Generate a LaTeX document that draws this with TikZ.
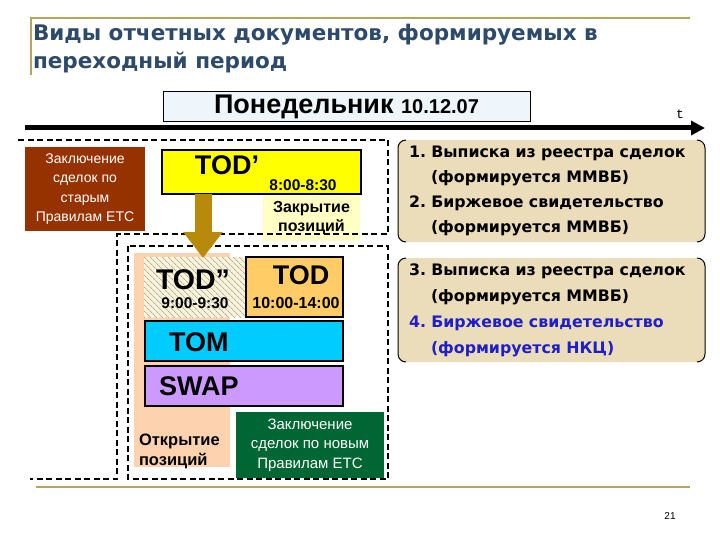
\documentclass[tikz,border=0pt]{standalone}
\usepackage{fontspec}
\setmainfont{Liberation Sans}
\newfontfamily\headfont{DejaVu Sans}
\newfontfamily\tfont{Liberation Mono}
\usetikzlibrary{arrows.meta,patterns.meta}
\definecolor{headblue}{HTML}{2E4A6B}
\definecolor{rulecol}{HTML}{B5A65A}
\definecolor{monday}{HTML}{EEF6FC}
\definecolor{oldbrown}{HTML}{963200}
\definecolor{todyellow}{HTML}{FFFF00}
\definecolor{closeyellow}{HTML}{FFFFC4}
\definecolor{arrgold}{HTML}{B88A0C}
\definecolor{openpeach}{HTML}{FCD3AE}
\definecolor{hatchbg}{HTML}{F6F2DC}
\definecolor{hatchln}{HTML}{B5AD8C}
\definecolor{todorange}{HTML}{FFCC66}
\definecolor{tomcyan}{HTML}{00CCFF}
\definecolor{swapviolet}{HTML}{CC99FF}
\definecolor{newgreen}{HTML}{006633}
\definecolor{doctan}{HTML}{EBDDBA}
\definecolor{docblue}{HTML}{1F1FC8}
\newcommand{\sz}[2]{\fontsize{#1}{#2}\selectfont}
\frenchspacing
\tikzset{
  blk/.style     = {anchor=north west,inner sep=0pt,outer sep=0pt},
  framed/.style  = {blk,draw=black,line width=1.3pt},
  lbl/.style     = {inner sep=0pt,outer sep=0pt},
  bound/.style   = {line width=1.6pt,dash pattern=on 6pt off 3.5pt},
  docbox/.style  = {blk,fill=doctan,rounded corners=8pt,minimum width=307pt,
                    text width=285pt,inner xsep=11pt,align=left},
  bracket/.style = {line width=1pt,rounded corners=8pt}
}

\begin{document}
\begin{tikzpicture}[x=1pt,y=-1pt]
  \useasboundingbox (0,0) rectangle (720,540);
  % title and rules
  \draw[rulecol,line width=2.5pt] (31,75) -- (31,18) -- (690,18);
  \node[blk,text=headblue,align=left,font=\headfont\bfseries\sz{21.5}{28}] (title) at (33,24)
    {Виды отчетных документов, формируемых в\\переходный период};
  \draw[rulecol,line width=2.5pt] (36,487) -- (690,487);
  \node[lbl,font=\sz{10}{12}] (pagenum) at (670,516) {21};

  % time axis
  \node[framed,line width=1pt,fill=monday,minimum width=367pt,minimum height=30pt,
        font=\bfseries] (monday) at (163,92)
    {{\sz{27}{28}Понедельник\ }{\sz{20}{22}10.12.07}};
  \coordinate (tstart) at (25,128);
  \coordinate (tend) at (705,128);
  \draw[line width=5pt,-{Triangle[length=14pt,width=14pt]}] (tstart) -- (tend);
  \node[lbl,font=\tfont\sz{13}{15}] (tlabel) at (680,114) {t};

  % old rules
  \node[blk,fill=oldbrown,minimum width=120pt,minimum height=84pt,text=white,
        align=center,font=\sz{14}{19.3}] (oldrules) at (25,147)
    {Заключение\\сделок по\\старым\\Правилам ЕТС};
  \node[framed,fill=todyellow,minimum width=199pt,minimum height=44pt] (todp) at (162,150) {};
  \node[lbl,font=\bfseries\sz{27}{30}] (todplbl) at (227,165) {TOD’};
  \node[lbl,font=\bfseries\sz{15.5}{17}] (todptime) at (303,185) {8:00-8:30};
  \node[blk,fill=closeyellow,minimum width=97pt,minimum height=46pt,align=center,
        font=\bfseries\sz{16}{19}] (closepos) at (263,195) {Закрытие\\позиций};

  % new rules
  \draw[bound] (128,246) rectangle (388,479);
  \node[blk,fill=openpeach,minimum width=96pt,minimum height=214pt] (openpos) at (134,253) {};
  \node[lbl,anchor=west,align=left,font=\bfseries\sz{16.5}{20}] (opentxt) at (139,451)
    {Открытие\\позиций};
  \node[blk,fill=hatchbg,postaction={pattern={Lines[angle=-45,distance=4pt,line width=0.7pt]},
        pattern color=hatchln},draw=white,dashed,minimum width=102pt,minimum height=60pt]
    (todpp) at (144,257) {};
  \node[framed,fill=todorange,minimum width=97pt,minimum height=60pt] (tod) at (246,257) {};
  \node[lbl,font=\bfseries\sz{28.5}{30}] (todpplbl) at (193,280) {TOD”};
  \node[lbl,font=\bfseries\sz{15.5}{17}] (todpptime) at (195,303) {9:00-9:30};
  \node[lbl,font=\bfseries\sz{27}{30}] (todlbl) at (301,275) {TOD};
  \node[lbl,font=\bfseries\sz{16}{18}] (todtime) at (296,303) {10:00-14:00};
  \node[framed,fill=tomcyan,minimum width=198pt,minimum height=40pt] (tom) at (145,321) {};
  \node[lbl,anchor=west,font=\bfseries\sz{27}{30}] (tomlbl) at (169,342) {TOM};
  \node[framed,fill=swapviolet,minimum width=198pt,minimum height=40pt] (swap) at (145,366) {};
  \node[lbl,anchor=west,font=\bfseries\sz{27}{30}] (swaplbl) at (159,386) {SWAP};
  \node[blk,fill=newgreen,minimum width=148pt,minimum height=66pt,text=white,
        align=center,font=\sz{15}{19.5}] (newrules) at (236,412)
    {Заключение\\сделок по новым\\Правилам ЕТС};

  \draw[bound] (18,140) -- (388,140) -- (388,234) -- (117,234) -- (117,479) -- (30,479);

  % documents
  \node[docbox,minimum height=102pt,font=\headfont\bfseries\sz{15.8}{25}] (docold) at (398,140)
    {1. Выписка из реестра сделок\\\hspace*{22pt}(формируется ММВБ)\\
     2. Биржевое свидетельство\\\hspace*{22pt}(формируется ММВБ)};
  \node[docbox,minimum height=104pt,font=\headfont\bfseries\sz{15.8}{26}] (docnew) at (398,258)
    {3. Выписка из реестра сделок\\\hspace*{22pt}(формируется ММВБ)\\
     \textcolor{docblue}{4. Биржевое свидетельство}\\
     \hspace*{22pt}\textcolor{docblue}{(формируется НКЦ)}};
  \foreach \d in {docold,docnew}{
    \draw[bracket] ([xshift=8pt]\d.north west) -- (\d.north west) -- (\d.south west)
      -- ([xshift=8pt]\d.south west);
    \draw[bracket] ([xshift=-8pt]\d.north east) -- (\d.north east) -- (\d.south east)
      -- ([xshift=-8pt]\d.south east);
  }

  % shift arrow
  \coordinate (arrtip) at (203,258);
  \draw[arrgold,line width=17pt,-{Triangle[length=26pt,width=38pt]}]
    (todp.south -| arrtip) -- (arrtip);
\end{tikzpicture}
\end{document}
